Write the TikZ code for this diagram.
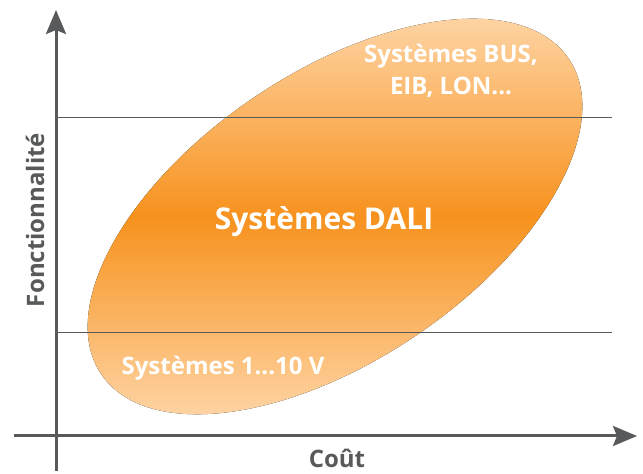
\documentclass[tikz,border=0pt]{standalone}
\usepackage{fontspec}
\setmainfont{Open Sans}
\usepackage{tikz}
\usetikzlibrary{arrows.meta,positioning}
\definecolor{dgrey}{HTML}{58595B}
\definecolor{olight}{HTML}{FED6A8}
\definecolor{odark}{HTML}{F7921E}

\begin{document}
\begin{tikzpicture}[x=1pt, y=1pt,
    axisline/.style={draw=dgrey, line width=3pt, -{Stealth[length=24pt, width=20pt, inset=4pt]}},
    sepline/.style={draw=dgrey, line width=0.9pt},
    zonetext/.style={text=white, font=\bfseries\fontsize{24}{32}\selectfont, align=center},
    axistext/.style={text=dgrey, font=\bfseries\fontsize{24}{28}\selectfont},
]
    \useasboundingbox (0,0) rectangle (643,474);
    % ellipse
    \fill[top color=olight, bottom color=olight, middle color=odark]
        (335,257.5) ellipse [x radius=282, y radius=144, rotate=34];
    % separations
    \coordinate (top left) at (57,357);
    \coordinate (top right) at (612,357);
    \coordinate (low left) at (57,142);
    \coordinate (low right) at (612,142);
    \draw[sepline] (top left) -- (top right);
    \draw[sepline] (low left) -- (low right);
    % axes
    \coordinate (y start) at (56,3);
    \coordinate (y end) at (56,464);
    \coordinate (x start) at (14,38);
    \coordinate (x end) at (637,38);
    \draw[axisline] (y start) -- (y end);
    \draw[axisline] (x start) -- (x end);
    % texts
    \node[zonetext] (bus) at (451,403) {Systèmes BUS,\\EIB, LON...};
    \node[zonetext, font=\bfseries\fontsize{30}{32}\selectfont] (dali) at (324,252) {Systèmes DALI};
    \node[zonetext] (volt) at (223,106) {Systèmes 1...10 V};
    \node[axistext, rotate=90] (fonct) at (35,254) {Fonctionnalité};
    \node[axistext] (cout) at (337,16) {Coût};
\end{tikzpicture}
\end{document}
